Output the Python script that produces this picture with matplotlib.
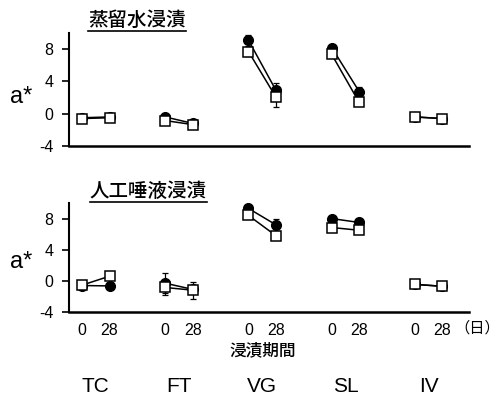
import matplotlib
matplotlib.use("Agg")
import matplotlib.pyplot as plt
from matplotlib.lines import Line2D

plt.rcParams['font.family'] = ['Liberation Sans', 'Noto Sans CJK JP']

groups = ['TC', 'FT', 'VG', 'SL', 'IV']
days = [0, 28]
day_labels = ['0', '28']

# distilled water immersion
water_circle = [[-0.5, -0.4], [-0.4, -1.2], [9.1, 2.9], [8.2, 2.75], [-0.4, -0.6]]
water_circle_err = [[0.2, 0.2], [0.3, 0.2], [0.7, 0.9], [0.3, 0.5], [0.2, 0.2]]
water_square = [[-0.6, -0.5], [-0.85, -1.35], [7.7, 2.05], [7.35, 1.4], [-0.4, -0.6]]
water_square_err = [[0.2, 0.2], [0.3, 0.2], [0.5, 1.2], [0.3, 0.3], [0.2, 0.2]]

# artificial saliva immersion
saliva_circle = [[-0.6, -0.65], [-0.3, -1.1], [9.3, 7.2], [8.0, 7.5], [-0.45, -0.7]]
saliva_circle_err = [[0.2, 0.2], [1.3, 0.3], [0.3, 0.8], [0.2, 0.3], [0.2, 0.2]]
saliva_square = [[-0.55, 0.6], [-0.85, -1.2], [8.4, 5.8], [6.85, 6.5], [-0.45, -0.7]]
saliva_square_err = [[0.2, 0.2], [1.0, 1.1], [0.3, 0.3], [0.3, 0.3], [0.2, 0.2]]

titles = ['蒸留水浸漬', '人工唾液浸漬']
ylabel = 'a*'
xlabel = '浸漬期間'
unit_label = '（日）'
yticks = [-4, 0, 4, 8]

W, H = 501, 395
DAY_SPAN = 0.33  # horizontal distance between day 0 and day 28 within a group

fig = plt.figure(figsize=(W / 100, H / 100), dpi=100)


def px_axes(x0, y0, x1, y1):
    return fig.add_axes([x0 / W, 1 - y1 / H, (x1 - x0) / W, (y1 - y0) / H])


ax_top = px_axes(69, 33, 469, 146)
ax_bot = px_axes(69, 203, 469, 312)


def xpos(gi, day):
    return gi + DAY_SPAN * day / 28


def draw_panel(ax, circ, circ_err, sq, sq_err, label_y):
    for gi in range(len(groups)):
        xs = [xpos(gi, d) for d in days]
        ax.errorbar(xs, circ[gi], yerr=circ_err[gi], fmt='none', ecolor='black',
                    elinewidth=0.9, capsize=2, capthick=0.9, zorder=1)
        ax.errorbar(xs, sq[gi], yerr=sq_err[gi], fmt='none', ecolor='black',
                    elinewidth=0.9, capsize=2, capthick=0.9, zorder=1)
        ax.plot(xs, circ[gi], '-', color='black', lw=1.1, zorder=2)
        ax.plot(xs, sq[gi], '-', color='black', lw=1.1, zorder=2)
        ax.plot(xs, circ[gi], 'o', ms=7, mfc='black', mec='black', zorder=3)
        ax.plot(xs, sq[gi], 's', ms=7, mfc='white', mec='black', mew=1.1, zorder=4)
    ax.set_xlim(-0.157, 4.65)
    ax.set_ylim(-4, 10)
    ax.set_yticks(yticks)
    ax.set_yticklabels([str(t) for t in yticks], fontsize=11.5)
    ax.tick_params(axis='y', direction='out', length=5, width=1.2, pad=6)
    for s in ['top', 'right']:
        ax.spines[s].set_visible(False)
    ax.spines['left'].set_linewidth(1.5)
    ax.spines['bottom'].set_linewidth(1.8)
    fig.text(21 / W, 1 - label_y / H, ylabel, ha='center', va='center', fontsize=17)


draw_panel(ax_top, water_circle, water_circle_err, water_square, water_square_err, 97)
draw_panel(ax_bot, saliva_circle, saliva_circle_err, saliva_square, saliva_square_err, 262)

ax_top.set_xticks([])
xt = [xpos(gi, d) for gi in range(len(groups)) for d in days]
ax_bot.set_xticks(xt)
ax_bot.set_xticklabels(day_labels * len(groups), fontsize=11.5)
ax_bot.tick_params(axis='x', length=0, pad=8)

# titles with underline
fig.canvas.draw()
renderer = fig.canvas.get_renderer()
for title, (cx, cy) in zip(titles, [(137, 20), (148, 191)]):
    t = fig.text(cx / W, 1 - cy / H, title, ha='center', va='center', fontsize=14,
                 fontweight='medium', family=['Noto Sans CJK JP'])
    bb = t.get_window_extent(renderer)
    yline = bb.y0 - 1
    fig.add_artist(Line2D([bb.x0 / W, bb.x1 / W], [yline / H, yline / H],
                          color='black', lw=1.2))

fig.text(477 / W, 1 - 328 / H, unit_label, ha='center', va='center', fontsize=11,
         family=['Noto Sans CJK JP'])
fig.text(263 / W, 1 - 350 / H, xlabel, ha='center', va='center', fontsize=12,
         fontweight='medium', family=['Noto Sans CJK JP'])

for gi, g in enumerate(groups):
    xc = ax_bot.transData.transform((xpos(gi, 14), 0))[0]
    fig.text(xc / W, 1 - 387 / H, g, ha='center', va='center', fontsize=15)

fig.savefig('out.png', dpi=100)
